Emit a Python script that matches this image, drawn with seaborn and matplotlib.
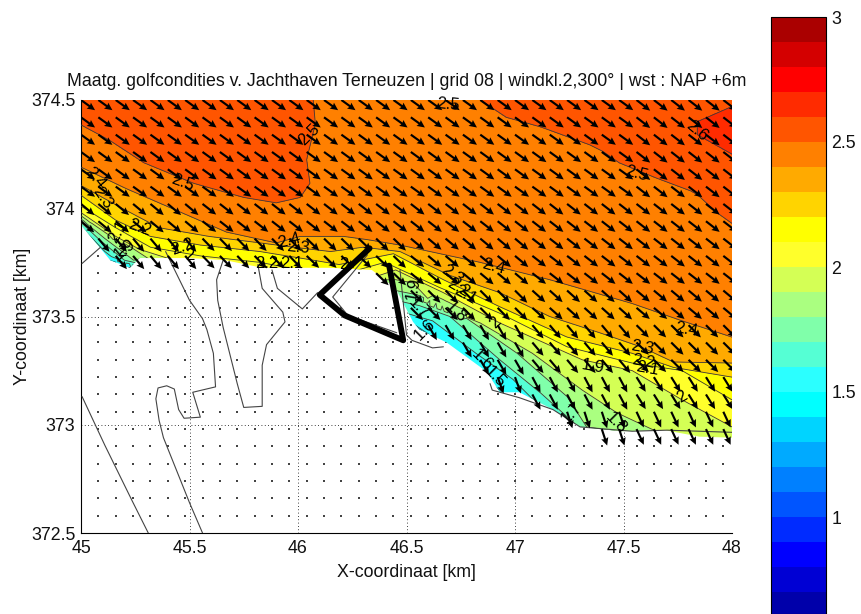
import numpy as np
import matplotlib
matplotlib.use("Agg")
import matplotlib.pyplot as plt
from matplotlib.colors import ListedColormap, BoundaryNorm
from matplotlib.patches import Polygon
from matplotlib.path import Path
import seaborn as sns

sns.set_theme(style="white")
plt.rcParams['font.family'] = ['Liberation Sans', 'DejaVu Sans']

TITLE = "Maatg. golfcondities v. Jachthaven Terneuzen | grid 08 | windkl.2,300° | wst : NAP +6m"
XLABEL = "X-coordinaat [km]"
YLABEL = "Y-coordinaat [km]"
x_ticks = [45, 45.5, 46, 46.5, 47, 47.5, 48]
y_ticks = [372.5, 373, 373.5, 374, 374.5]
x_ticklabels = ["45", "45.5", "46", "46.5", "47", "47.5", "48"]
y_ticklabels = ["372.5", "373", "373.5", "374", "374.5"]
cbar_ticks = [1, 1.5, 2, 2.5, 3]
cbar_ticklabels = ["1", "1.5", "2", "2.5", "3"]
levels = [round(0.6 + 0.1 * i, 1) for i in range(25)]
# Band colours, lowest band first (as sampled from the colour bar)
band_rgb = [(0, 0, 170), (0, 0, 212), (0, 0, 255), (0, 43, 255), (0, 85, 255), (0, 128, 255), (0, 170, 255),
            (0, 212, 255), (0, 255, 255), (43, 255, 255), (85, 255, 212), (128, 255, 170), (170, 255, 128),
            (212, 255, 85), (255, 255, 43), (255, 255, 0), (255, 212, 0), (255, 170, 0), (255, 128, 0),
            (255, 85, 0), (255, 43, 0), (255, 0, 0), (212, 0, 0), (170, 0, 0)]

# Contour lines of the wave height: (x km, y km)
h26 = [(48, 374.47), (47.84, 374.40), (47.84, 374.34), (48, 374.25)]
h25_east = [(46.84, 374.5), (46.96, 374.42), (47.12, 374.375), (47.27, 374.32), (47.38, 374.28),
            (47.48, 374.21), (47.65, 374.14), (47.81, 374.08), (47.90, 374.03), (47.93, 373.98), (48, 373.93)]
h25_west = [(45, 374.385), (45.13, 374.315), (45.29, 374.21), (45.52, 374.115), (45.75, 374.05),
            (45.90, 374.025), (46.01, 374.05), (46.055, 374.115), (46.04, 374.225), (45.99, 374.285),
            (46.08, 374.39), (46.07, 374.5)]
h24 = [(45, 374.19), (45.21, 374.09), (45.44, 373.99), (45.67, 373.89), (45.90, 373.84), (46.01, 373.87),
       (46.21, 373.87), (46.32, 373.855), (46.47, 373.83), (46.84, 373.75), (47.16, 373.67), (47.54, 373.56),
       (47.77, 373.48), (48, 373.405)]
h23 = [(45, 374.105), (45.18, 374.005), (45.36, 373.91), (45.59, 373.87), (45.825, 373.84), (45.98, 373.82),
       (46.15, 373.80), (46.30, 373.82), (46.47, 373.80), (46.70, 373.69), (46.93, 373.61), (47.16, 373.50),
       (47.39, 373.425), (47.58, 373.36), (47.73, 373.29), (48, 373.285)]
h22 = [(45, 374.06), (45.16, 373.945), (45.32, 373.87), (45.55, 373.83), (45.825, 373.80), (46.01, 373.77),
       (46.19, 373.74), (46.44, 373.79), (46.67, 373.67), (46.93, 373.545), (47.24, 373.405), (47.54, 373.33),
       (47.73, 373.265), (48, 373.22)]
h21 = [(45, 374.01), (45.16, 373.91), (45.32, 373.82), (45.55, 373.78), (45.825, 373.75), (46.01, 373.715),
       (46.24, 373.705), (46.40, 373.75), (46.65, 373.635), (46.93, 373.515), (47.24, 373.36), (47.54, 373.285),
       (47.77, 373.25), (48, 373.115)]
h20 = [(45, 373.98), (45.16, 373.87), (45.27, 373.81), (45.46, 373.75), (45.825, 373.69), (46.24, 373.645),
       (46.45, 373.715), (46.67, 373.61), (46.93, 373.47), (47.31, 373.30), (47.54, 373.25), (47.77, 373.115),
       (48, 372.99)]
h19 = [(45, 373.965), (45.13, 373.875), (45.23, 373.82), (45.36, 373.735), (45.9, 373.66), (46.45, 373.67),
       (46.53, 373.655), (46.62, 373.56), (46.84, 373.47), (47.08, 373.33), (47.31, 373.16), (47.47, 373.055),
       (47.64, 372.975), (47.85, 372.905)]
h18 = [(45, 373.95), (45.11, 373.86), (45.19, 373.80), (45.295, 373.72), (45.9, 373.63), (46.45, 373.62),
       (46.55, 373.60), (46.75, 373.51), (47.01, 373.33), (47.24, 373.13), (47.33, 372.99)]
h17 = [(45, 373.935), (45.09, 373.85), (45.20, 373.76), (45.9, 373.60), (46.45, 373.575), (46.56, 373.55),
       (46.70, 373.50), (46.93, 373.30), (47.12, 373.145), (47.27, 373.01)]
h16 = [(45, 373.915), (45.11, 373.80), (45.20, 373.73), (45.9, 373.57), (46.45, 373.53), (46.55, 373.50),
       (46.62, 373.48), (46.82, 373.33), (46.99, 373.21), (47.15, 373.05)]
h15 = [(45, 373.89), (45.13, 373.76), (46.0, 373.50), (46.54, 373.46), (46.60, 373.42), (46.80, 373.25),
       (46.93, 373.16), (47.1, 373.0)]
# Isolated readings between the contour lines: (x km, y km, height m)
h_points = [(45, 374.5, 2.55), (45.6, 374.5, 2.56), (46.0, 374.5, 2.52), (46.45, 374.5, 2.46), (47.4, 374.5, 2.56),
            (47.84, 374.5, 2.58), (48, 374.5, 2.58), (47.93, 374.37, 2.68), (48, 374.37, 2.69), (45.6, 374.25, 2.58),
            (46.5, 374.2, 2.45), (47, 374.1, 2.45), (46.6, 373.95, 2.45), (47.5, 373.85, 2.44), (48, 373.7, 2.44),
            (45.0, 373.7, 1.0), (46.0, 373.40, 1.2), (46.58, 373.41, 1.1), (46.75, 373.24, 1.3), (47.0, 373.05, 1.4),
            (47.3, 372.9, 1.6), (47.5, 372.85, 1.65), (48, 372.85, 1.85), (45, 372.5, 1.0), (48, 372.5, 1.6)]
height_lines = [(2.6, h26), (2.5, h25_east), (2.5, h25_west), (2.4, h24), (2.3, h23), (2.2, h22), (2.1, h21),
                (2.0, h20), (1.9, h19), (1.8, h18), (1.7, h17), (1.6, h16), (1.5, h15)]

# Outline of the wet area (a hair beyond the axes at the top and sides)
wet_area = [(44.99, 374.51), (48.01, 374.51), (48.01, 372.94), (47.85, 372.945), (47.69, 372.975), (47.49, 372.97),
            (47.30, 372.99), (47.175, 373.07), (47.02, 373.15), (46.93, 373.15), (46.87, 373.245), (46.685, 373.38),
            (46.56, 373.44), (46.53, 373.475), (46.45, 373.63), (46.34, 373.715), (46.15, 373.725), (45.835, 373.725),
            (45.665, 373.76), (45.50, 373.77), (45.27, 373.77), (45.225, 373.725), (45.135, 373.76), (44.99, 373.935)]

# Thin map lines
coast_a = [(45.005, 373.13), (45.11, 372.905), (45.235, 372.65), (45.31, 372.5)]
coast_b = [(45.56, 372.5), (45.50, 372.64), (45.44, 372.79), (45.38, 372.94), (45.36, 373.02), (45.345, 373.12),
           (45.355, 373.17), (45.395, 373.18), (45.43, 373.165), (45.45, 373.07), (45.475, 373.03), (45.55, 373.035),
           (45.515, 373.15), (45.62, 373.175), (45.61, 373.33), (45.58, 373.44), (45.56, 373.49), (45.50, 373.575),
           (45.39, 373.80)]
coast_c = [(45.655, 373.76), (45.625, 373.67), (45.63, 373.575), (45.655, 373.45), (45.72, 373.19), (45.75, 373.08),
           (45.835, 373.085), (45.835, 373.275), (45.855, 373.37), (45.94, 373.475), (45.93, 373.52), (45.835, 373.63),
           (45.815, 373.74)]
coast_d = [(45.88, 373.715), (45.905, 373.63), (46.02, 373.535), (46.09, 373.61)]
coast_e = [(46.32, 373.785), (46.16, 373.59), (46.23, 373.505), (46.455, 373.425)]
coast_f = [(46.47, 373.715), (46.50, 373.415), (46.525, 373.39), (46.62, 373.355), (46.67, 373.36)]
coast_g = [(46.885, 373.19), (46.895, 373.16), (47.02, 373.125), (47.175, 373.07), (47.30, 372.99), (47.36, 372.985),
           (47.54, 372.97), (47.70, 372.975), (48, 372.965)]
coast_h = [(45.005, 373.745), (45.09, 373.82)]
coast_lines = [coast_a, coast_b, coast_c, coast_d, coast_e, coast_f, coast_g, coast_h]
harbour = [(46.33, 373.815), (46.10, 373.60), (46.215, 373.505), (46.485, 373.39), (46.42, 373.735)]

# Wave vectors: angle below east (deg), by zone
dir_x_edges = [45.5, 46, 46.5, 47, 47.5]
dir_y_edges = [374.1, 373.9, 373.7, 373.5, 373.3, 373.1]
wave_angle = [[36, 36, 36, 36, 36, 38],
              [40, 38, 38, 38, 38, 38],
              [50, 46, 44, 40, 38, 38],
              [55, 50, 55, 45, 42, 40],
              [60, 60, 70, 60, 50, 45],
              [60, 60, 70, 70, 62, 58],
              [60, 60, 70, 75, 72, 65]]
vector_length = 0.08  # km
vector_spacing = 0.08  # km

labels = [("2.5", 46.69, 374.48, -5), ("2.5", 46.05, 374.34, 45), ("2.5", 45.47, 374.12, -20),
          ("2.6", 47.84, 374.355, -40), ("2.5", 47.56, 374.16, -15), ("2.4", 45.065, 374.14, -50),
          ("2.3", 45.10, 374.05, -55), ("2.4", 46.90, 373.73, -15), ("2.3", 46.71, 373.69, -35),
          ("2.2", 46.74, 373.63, -30), ("2.1", 46.77, 373.60, -30), ("1.9", 46.53, 373.63, 80),
          ("1.8", 46.73, 373.52, -45), ("1.7", 46.56, 373.54, -45), ("1.6", 46.585, 373.44, 45),
          ("2", 46.91, 373.47, 45), ("2.4", 47.79, 373.44, -10), ("2.3", 47.585, 373.355, -10),
          ("2.2", 47.59, 373.29, -10), ("2.1", 47.61, 373.26, -10), ("1.9", 47.36, 373.27, -10),
          ("2", 47.77, 373.13, 30), ("1.8", 47.465, 373.01, -45), ("1.7", 47.26, 373.055, 45),
          ("1.6", 46.85, 373.30, -45), ("1.5", 46.91, 373.22, -45), ("2.2", 45.27, 373.91, -20),
          ("2.1", 45.17, 373.89, 60), ("2", 45.19, 373.80, 0), ("1.9", 45.20, 373.81, 40),
          ("2.2", 45.47, 373.82, 20), ("2", 45.50, 373.78, 0), ("2.4", 45.96, 373.85, 15),
          ("2.3", 46.0, 373.82, -5), ("2.2", 45.855, 373.745, 0), ("2.1", 45.97, 373.745, 0),
          ("2", 46.21, 373.74, 0)]

fig = plt.figure(figsize=(8.61, 6.14), dpi=100)
W, H = 861, 614
ax = fig.add_axes([81 / W, 1 - 533 / H, (732 - 81) / W, (533 - 100) / H])
cax = fig.add_axes([771 / W, 0, (826 - 771) / W, 1 - 17 / H])

ax.set_axisbelow(True)
ax.grid(True, color="black", linestyle=(0, (1, 3)), linewidth=0.6)

# Triangulation mesh: the read vertices of each contour, with extra mesh nodes along
# each straight stretch so that the triangles do not cut across neighbouring contours.
px, py, pz = [], [], []
for lev, pts in height_lines:
    for (x0, y0), (x1, y1) in zip(pts[:-1], pts[1:]):
        n = max(1, int(np.hypot(x1 - x0, y1 - y0) / 0.03))
        for k in range(n):
            px.append(x0 + (x1 - x0) * k / n)
            py.append(y0 + (y1 - y0) * k / n)
            pz.append(lev)
    px.append(pts[-1][0]); py.append(pts[-1][1]); pz.append(lev)
for x, y, z in h_points:
    px.append(x); py.append(y); pz.append(z)

palette = sns.color_palette([(r / 255, g / 255, b / 255) for r, g, b in band_rgb])
cmap = ListedColormap(palette)
norm = BoundaryNorm(levels, cmap.N)
wet_patch = Polygon(wet_area, closed=True, transform=ax.transData, facecolor="none", edgecolor="none")
ax.add_patch(wet_patch)
cf = ax.tricontourf(px, py, pz, levels=levels, cmap=cmap, norm=norm, zorder=2)
cl = ax.tricontour(px, py, pz, levels=levels, colors="#3a3a3a", linewidths=0.6, zorder=3)
cf.set_clip_path(wet_patch)
cl.set_clip_path(wet_patch)

# vectors and dry-point dots
gx = 45 + vector_spacing * np.arange(38)
gy = 372.5 + vector_spacing * np.arange(26)
GX, GY = np.meshgrid(gx, gy)
points = np.column_stack([GX.ravel(), GY.ravel()])
is_wet = Path(wet_area).contains_points(points)
col = np.searchsorted(dir_x_edges, points[:, 0])
row = np.searchsorted(-np.array(dir_y_edges), -points[:, 1])
ang = np.radians(np.array(wave_angle)[row, col])
ax.quiver(points[is_wet, 0], points[is_wet, 1],
          vector_length * np.cos(ang[is_wet]), -vector_length * np.sin(ang[is_wet]),
          angles="xy", scale_units="xy", scale=1, color="black", width=0.0033,
          headwidth=3.4, headlength=3.6, headaxislength=3.2, zorder=5, clip_on=True)
is_dot = (~is_wet) & (points[:, 0] > 45.01) & (points[:, 1] > 372.51)
sns.scatterplot(x=points[is_dot, 0], y=points[is_dot, 1], ax=ax, color="#444444", s=1.1,
                linewidth=0, marker="s", legend=False, zorder=1.5)

for line in coast_lines:
    a = np.array(line)
    sns.lineplot(x=a[:, 0], y=a[:, 1], ax=ax, sort=False, estimator=None, color="#444444",
                 linewidth=0.8, legend=False, zorder=4)
a = np.array(harbour)
sns.lineplot(x=a[:, 0], y=a[:, 1], ax=ax, sort=False, estimator=None, color="black",
             linewidth=4.2, legend=False, zorder=6)

for t, x, y, r in labels:
    ax.text(x, y, t, fontsize=12, rotation=r, rotation_mode="anchor", ha="center", va="center",
            color="black", zorder=7)

ax.set_xlim(45, 48)
ax.set_ylim(372.5, 374.5)
ax.set_xticks(x_ticks); ax.set_xticklabels(x_ticklabels)
ax.set_yticks(y_ticks); ax.set_yticklabels(y_ticklabels)
ax.tick_params(axis="both", length=0, labelsize=12.8, pad=5, colors="#111111")
ax.tick_params(axis="y", pad=4)
ax.set_xlabel(XLABEL, fontsize=12.8, labelpad=5, color="#111111")
ax.set_ylabel(YLABEL, fontsize=12.8, labelpad=0, color="#111111")
ax.set_title(TITLE, fontsize=12.8, pad=10, color="#111111")
ax.spines["top"].set_visible(False)
ax.spines["right"].set_visible(False)
for s in ("left", "bottom"):
    ax.spines[s].set_color("black")
    ax.spines[s].set_linewidth(0.8)

cb = fig.colorbar(cf, cax=cax, ticks=cbar_ticks, spacing="proportional")
cb.ax.set_yticklabels(cbar_ticklabels)
cb.ax.set_ylim(0.612, 3)
cb.ax.minorticks_off()
cb.ax.tick_params(axis="y", which="major", direction="in", left=True, right=True, length=5, width=0.7,
                  labelsize=12.8, pad=4, color="black", labelcolor="#111111")
cb.outline.set_edgecolor("black")
cb.outline.set_linewidth(0.8)

fig.savefig("out.png", dpi=100)
